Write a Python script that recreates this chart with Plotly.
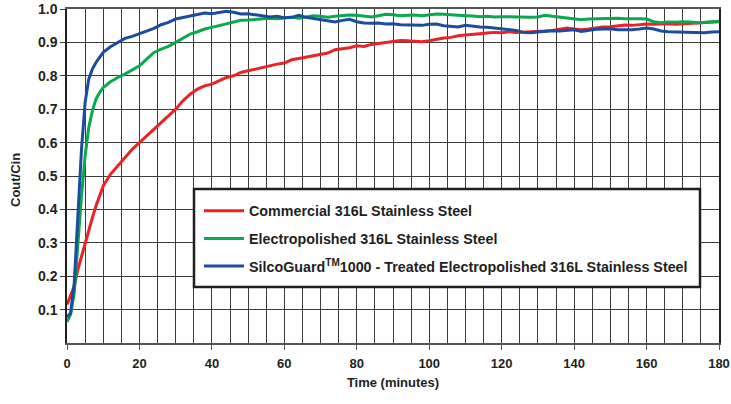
import plotly.graph_objects as go

time_min = [0, 1, 2, 3, 4, 5, 6, 7, 8, 9, 10] + list(range(12, 181, 2))

commercial = [0.115, 0.14, 0.17, 0.22, 0.26, 0.30, 0.335, 0.375, 0.41, 0.44, 0.47,
              0.505, 0.53, 0.555, 0.58, 0.60, 0.62, 0.64, 0.66, 0.68, 0.70,
              0.725, 0.745, 0.76, 0.77, 0.775, 0.785, 0.795, 0.80, 0.81, 0.815,
              0.82, 0.826, 0.83, 0.835, 0.838, 0.848, 0.852, 0.856, 0.86, 0.865,
              0.868, 0.878, 0.88, 0.884, 0.89, 0.888, 0.894, 0.897, 0.90, 0.902,
              0.906, 0.905, 0.904, 0.902, 0.905, 0.91, 0.913, 0.915, 0.92, 0.922,
              0.925, 0.926, 0.928, 0.93, 0.929, 0.932, 0.93, 0.931, 0.93, 0.932,
              0.934, 0.936, 0.94, 0.943, 0.94, 0.938, 0.94, 0.944, 0.946, 0.947,
              0.949, 0.952, 0.951, 0.953, 0.955, 0.954, 0.955, 0.956, 0.954, 0.955,
              0.956, 0.957, 0.958, 0.961, 0.962]

electropolished = [0.063, 0.085, 0.15, 0.31, 0.44, 0.56, 0.645, 0.695, 0.73, 0.75, 0.765,
                   0.782, 0.795, 0.805, 0.818, 0.83, 0.85, 0.87, 0.88, 0.888, 0.90,
                   0.912, 0.925, 0.932, 0.94, 0.945, 0.95, 0.957, 0.961, 0.966, 0.967,
                   0.969, 0.97, 0.972, 0.971, 0.974, 0.975, 0.972, 0.977, 0.98, 0.978,
                   0.975, 0.978, 0.98, 0.982, 0.981, 0.979, 0.976, 0.98, 0.984, 0.983,
                   0.98, 0.981, 0.982, 0.98, 0.982, 0.985, 0.984, 0.982, 0.981, 0.98,
                   0.979, 0.977, 0.978, 0.976, 0.977, 0.976, 0.975, 0.976, 0.975, 0.976,
                   0.981, 0.978, 0.975, 0.973, 0.97, 0.968, 0.97, 0.971, 0.972, 0.973,
                   0.972, 0.971, 0.972, 0.971, 0.97, 0.962, 0.959, 0.961, 0.96, 0.962,
                   0.961, 0.959, 0.96, 0.962, 0.963]

silcoguard = [0.078, 0.09, 0.18, 0.38, 0.58, 0.72, 0.79, 0.82, 0.84, 0.855, 0.87,
              0.887, 0.90, 0.912, 0.918, 0.926, 0.933, 0.942, 0.953, 0.96, 0.97,
              0.975, 0.979, 0.985, 0.988, 0.986, 0.989, 0.993, 0.99, 0.985, 0.986,
              0.982, 0.978, 0.976, 0.978, 0.974, 0.975, 0.981, 0.975, 0.972, 0.969,
              0.964, 0.961, 0.966, 0.969, 0.962, 0.958, 0.957, 0.958, 0.955, 0.956,
              0.953, 0.952, 0.953, 0.951, 0.954, 0.955, 0.95, 0.947, 0.946, 0.951,
              0.948, 0.946, 0.945, 0.943, 0.942, 0.94, 0.936, 0.93, 0.929, 0.931,
              0.933, 0.935, 0.934, 0.935, 0.938, 0.933, 0.937, 0.939, 0.94, 0.941,
              0.938, 0.937, 0.938, 0.94, 0.943, 0.94, 0.934, 0.932, 0.931, 0.931,
              0.929, 0.928, 0.929, 0.931, 0.932]

series_names = ["Commercial 316L Stainless Steel",
                "Electropolished 316L Stainless Steel",
                "SilcoGuard<sup>TM</sup>1000 - Treated Electropolished 316L Stainless Steel"]
series_values = [commercial, electropolished, silcoguard]
series_colors = ["#ec2227", "#0aa84f", "#1a4d9e"]

y_ticks = [0.1, 0.2, 0.3, 0.4, 0.5, 0.6, 0.7, 0.8, 0.9, 1.0]
y_tick_labels = ["0.1", "0.2", "0.3", "0.4", "0.5", "0.6", "0.7", "0.8", "0.9", "1.0"]
y_title = "Cout/Cin"
x_title = "Time (minutes)"

fig = go.Figure()
for name, vals, col in zip(series_names, series_values, series_colors):
    fig.add_trace(go.Scatter(x=time_min, y=vals, mode="lines", name=name,
                             legendgroup=name,
                             line=dict(color=col, width=3)))

W, H = 731, 404
PL, PR, PT, PB = 67, 719, 9, 343  # plot area in pixels
def px_x(p):
    return (p - PL) / (PR - PL)
def px_y(p):
    return (PB - p) / (PB - PT)

grid_col = "#3c3c3c"
txt_col = "#231f20"
fig.update_layout(
    width=W, height=H,
    margin=dict(l=PL, r=W - PR, t=PT, b=H - PB),
    paper_bgcolor="white", plot_bgcolor="white",
    font=dict(family="Liberation Sans, Arial, sans-serif", color=txt_col),
    showlegend=True,
    legend=dict(x=px_x(199), y=px_y(195), xanchor="left", yanchor="top",
                bgcolor="rgba(0,0,0,0)", borderwidth=0,
                font=dict(size=14.3, weight="bold", color=txt_col),
                tracegroupgap=6, itemwidth=40),
    shapes=[dict(type="rect", xref="paper", yref="paper",
                 x0=px_x(194), x1=px_x(700), y0=px_y(287), y1=px_y(189),
                 fillcolor="white", line=dict(color=txt_col, width=2.5),
                 layer="above")],
    annotations=[dict(text=y_title, xref="paper", yref="paper",
                      x=px_x(15), y=px_y(180), xanchor="center", yanchor="middle",
                      textangle=-90, showarrow=False,
                      font=dict(size=13, weight="bold", color=txt_col))],
)
fig.update_xaxes(
    range=[0, 180], dtick=20, tick0=0, automargin=False,
    showgrid=True, gridcolor=grid_col, gridwidth=1,
    minor=dict(dtick=5, showgrid=True, gridcolor=grid_col, gridwidth=1),
    showline=True, linecolor="#555555", linewidth=1.5, mirror=True,
    ticks="outside", ticklen=5, tickcolor="#555555",
    ticklabelstandoff=3,
    tickfont=dict(size=13, weight="bold", color=txt_col),
    title=dict(text=x_title, standoff=8,
               font=dict(size=13, weight="bold", color=txt_col)),
    zeroline=False,
)
fig.update_yaxes(
    range=[0, 1.0], tickvals=y_ticks, ticktext=y_tick_labels, automargin=False,
    showgrid=True, gridcolor=grid_col, gridwidth=1,
    showline=True, linecolor=txt_col, linewidth=1.5, mirror=True,
    ticks="outside", ticklen=5, tickcolor=grid_col,
    tickfont=dict(size=14, weight="bold", color=txt_col),
    zeroline=False,
)

fig.write_html("out.html",
               config={"displayModeBar": False},
               post_script="document.body.style.margin='0px';"
                           "document.body.style.overflow='hidden';")
